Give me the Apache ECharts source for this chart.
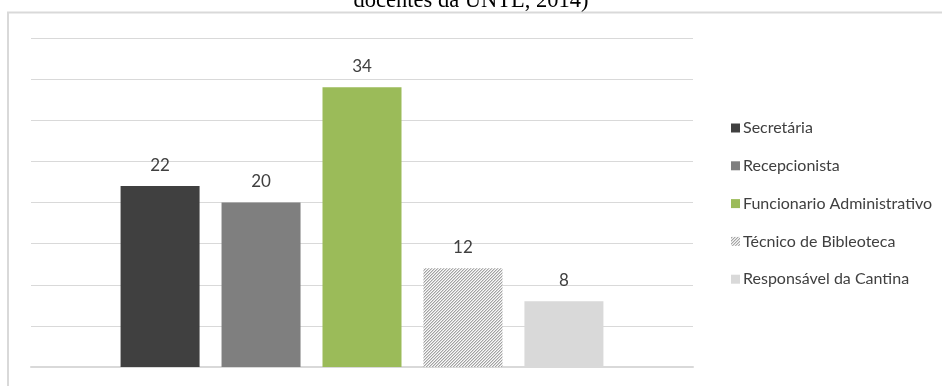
<!DOCTYPE html>
<html>
<head>
<meta charset="utf-8">
<script src="https://cdn.jsdelivr.net/npm/echarts@6/dist/echarts.min.js"></script>
<style>
  html, body { margin: 0; padding: 0; background: #ffffff; }
  #chart { width: 942px; height: 386px; }
</style>
</head>
<body>
<div id="chart"></div>
<script>
// Staff categories and their counts
const categories = [''];
const seriesNames = [
  'Secretária',
  'Recepcionista',
  'Funcionario Administrativo',
  'Técnico de Bibleoteca',
  'Responsável da Cantina'
];
const seriesValues = [22, 20, 34, 12, 8];
const yMin = 0;
const yMax = 40;
const yStep = 5;

// Fine upward-diagonal hatch used for the fourth series
function makeHatch() {
  const n = 3;
  const c = document.createElement('canvas');
  c.width = n; c.height = n;
  const ctx = c.getContext('2d');
  for (let x = 0; x < n; x++) {
    for (let y = 0; y < n; y++) {
      const k = (x + y) % n;
      ctx.fillStyle = k === 0 ? '#a3a3a3' : (k === 1 ? '#d4d4d4' : '#fafafa');
      ctx.fillRect(x, y, 1, 1);
    }
  }
  return c;
}

const fills = ['#404040', '#7f7f7f', '#9bbb59', { image: makeHatch(), repeat: 'repeat' }, '#d9d9d9'];
const uiFont = 'Lato';

const chart = echarts.init(document.getElementById('chart'), null, { renderer: 'canvas' });

const series = seriesNames.map((name, i) => ({
  name: name,
  type: 'bar',
  data: [seriesValues[i]],
  barWidth: 79,
  barGap: '27.8%',
  itemStyle: { color: fills[i] },
  label: {
    show: true,
    position: 'top',
    distance: 12,
    color: '#404040',
    fontFamily: uiFont,
    fontSize: 17
  }
}));

chart.setOption({
  animation: false,
  backgroundColor: '#ffffff',
  graphic: [
    {
      type: 'rect',
      shape: { x: 8, y: 12.5, width: 1000, height: 500 },
      style: { fill: 'none', stroke: '#d9d9d9', lineWidth: 2 },
      silent: true
    },
    {
      type: 'text',
      style: {
        text: 'docentes da UNTL, 2014)',
        x: 471,
        y: 13,
        textAlign: 'center',
        textVerticalAlign: 'bottom',
        font: '22.5px "Liberation Serif"',
        fill: '#000000'
      },
      silent: true
    }
  ],
  legend: {
    orient: 'vertical',
    left: 726,
    top: 115,
    itemGap: 21.8,
    itemWidth: 9,
    itemHeight: 9,
    icon: 'rect',
    textStyle: { fontFamily: uiFont, fontSize: 16, color: '#404040', padding: [0, 0, 0, -2] },
    data: seriesNames
  },
  grid: { left: 31, top: 38, width: 662, height: 329 },
  xAxis: {
    type: 'category',
    data: categories,
    axisLine: { show: true, lineStyle: { color: '#d9d9d9', width: 2 } },
    axisTick: { show: false },
    axisLabel: { show: false }
  },
  yAxis: {
    type: 'value',
    min: yMin,
    max: yMax,
    interval: yStep,
    axisLine: { show: false },
    axisTick: { show: false },
    axisLabel: { show: false },
    splitLine: { lineStyle: { color: '#d9d9d9', width: 1 } }
  },
  series: series
});
</script>
</body>
</html>
